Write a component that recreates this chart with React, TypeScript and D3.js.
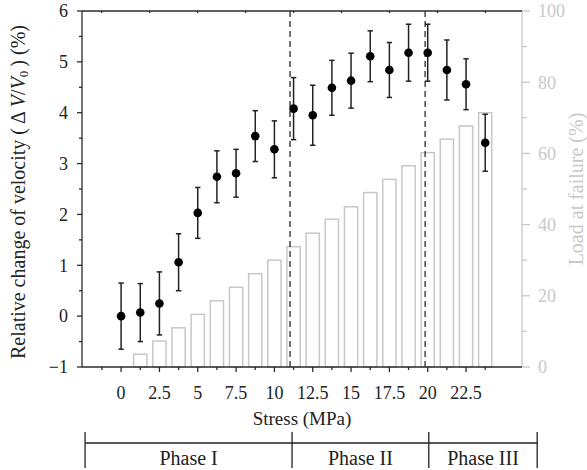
import React from "react";
import * as d3 from "d3";

const stress = [0, 1.25, 2.5, 3.75, 5, 6.25, 7.5, 8.75, 10, 11.25, 12.5, 13.75, 15, 16.25, 17.5, 18.75, 20, 21.25, 22.5, 23.75];
const velocityChange = [0, 0.07, 0.25, 1.06, 2.03, 2.74, 2.81, 3.54, 3.28, 4.08, 3.95, 4.49, 4.63, 5.11, 4.84, 5.18, 5.18, 4.84, 4.56, 3.41];
const velocityError = [0.65, 0.57, 0.62, 0.56, 0.5, 0.51, 0.47, 0.5, 0.56, 0.61, 0.59, 0.54, 0.54, 0.5, 0.54, 0.56, 0.56, 0.59, 0.5, 0.56];

const barStress = [1.25, 2.5, 3.75, 5, 6.25, 7.5, 8.75, 10, 11.25, 12.5, 13.75, 15, 16.25, 17.5, 18.75, 20, 21.25, 22.5, 23.75];
const loadAtFailure = [3.6, 7.3, 11.0, 14.8, 18.6, 22.4, 26.2, 30.0, 33.8, 37.6, 41.5, 45.0, 49.0, 52.7, 56.5, 60.2, 64.0, 67.7, 71.4];

const xTicks = [0, 2.5, 5, 7.5, 10, 12.5, 15, 17.5, 20, 22.5];
const xMinorTicks = [-1.25, 1.25, 3.75, 6.25, 8.75, 11.25, 13.75, 16.25, 18.75, 21.25, 23.75];
const yTicks = [-1, 0, 1, 2, 3, 4, 5, 6];
const yMinorTicks = [-0.5, 0.5, 1.5, 2.5, 3.5, 4.5, 5.5];
const yRightTicks = [0, 20, 40, 60, 80, 100];
const yRightMinorTicks = [10, 30, 50, 70, 90];
const topTicks = [0, 1, 2, 3, 4, 5, 6, 7, 8];

const phaseLines = [11.02, 19.83];
const phaseEdges = [-2.35, 11.15, 20.07, 27.14];
const phaseLabels = ["Phase I", "Phase II", "Phase III"];

const W = 587;
const H = 470;
const left = 82, right = 522, top = 11, bottom = 367;

const AXIS = "#2b2b2b";
const GREY = "#c8c8c8";
const FONT = '"Liberation Serif"';

export default function App() {
  const x = d3.scaleLinear().domain([-2.55, 26.15]).range([left, right]);
  const y = d3.scaleLinear().domain([-1, 6]).range([bottom, top]);
  const yR = d3.scaleLinear().domain([0, 100]).range([bottom, top]);
  const xTop = d3.scaleLinear().domain([-0.41, 8.76]).range([left, right]);
  const barW = (x(1.25) - x(0)) * 0.69;

  const fmt = (v: number) => (v < 0 ? "\u2212" + Math.abs(v) : String(v));
  const ts = { fontFamily: FONT };

  return (
    <svg width={W} height={H} style={{ position: "absolute", left: 0, top: 0, background: "#fff" }}>
      <rect x={0} y={0} width={W} height={H} fill="#fff" />
      {barStress.map((s, i) => (
        <rect key={"b" + i} x={x(s) - barW / 2} y={yR(loadAtFailure[i])} width={barW} height={yR(0) - yR(loadAtFailure[i])}
          fill="#fff" stroke={GREY} strokeWidth={1.5} />
      ))}
      {phaseLines.map((p, i) => (
        <line key={"pl" + i} x1={x(p)} x2={x(p)} y1={top} y2={bottom} stroke={AXIS} strokeWidth={1.3} strokeDasharray="6,4" />
      ))}
      <line x1={right} x2={right} y1={top} y2={bottom} stroke={GREY} strokeWidth={1.3} />
      {yRightTicks.map((t) => (
        <g key={"yr" + t}>
          <line x1={right} x2={right + 8} y1={yR(t)} y2={yR(t)} stroke={GREY} strokeWidth={1.3} />
          <text style={ts} x={right + 16} y={yR(t)} dy="0.35em" fill={GREY} fontSize={18}>{t}</text>
        </g>
      ))}
      {yRightMinorTicks.map((t) => (
        <line key={"yrm" + t} x1={right} x2={right + 5} y1={yR(t)} y2={yR(t)} stroke={GREY} strokeWidth={1.3} />
      ))}
      <text style={ts} transform={`translate(${576},${(top + bottom) / 2}) rotate(-90)`} textAnchor="middle" dy="0.33em" fill={GREY} fontSize={20}>
        Load at failure (%)
      </text>
      <line x1={left} x2={right} y1={top} y2={top} stroke={AXIS} strokeWidth={1.3} />
      {topTicks.map((t) => (
        <line key={"tt" + t} x1={xTop(t)} x2={xTop(t)} y1={top} y2={top + 2} stroke={AXIS} strokeWidth={1.3} />
      ))}
      <line x1={left} x2={left} y1={top} y2={bottom} stroke={AXIS} strokeWidth={1.3} />
      <line x1={left} x2={right} y1={bottom} y2={bottom} stroke={AXIS} strokeWidth={1.3} />
      {yTicks.map((t) => (
        <g key={"y" + t}>
          <line x1={left - 5} x2={left} y1={y(t)} y2={y(t)} stroke={AXIS} strokeWidth={1.3} />
          <text style={ts} x={left - 14} y={y(t)} dy="0.35em" textAnchor="end" fill="#222" fontSize={18}>{fmt(t)}</text>
        </g>
      ))}
      {yMinorTicks.map((t) => (
        <line key={"ym" + t} x1={left - 3} x2={left} y1={y(t)} y2={y(t)} stroke={AXIS} strokeWidth={1.3} />
      ))}
      {xTicks.map((t) => (
        <g key={"x" + t}>
          <line x1={x(t)} x2={x(t)} y1={bottom} y2={bottom + 5} stroke={AXIS} strokeWidth={1.3} />
          <text style={ts} x={x(t)} y={399} textAnchor="middle" fill="#222" fontSize={18}>{t}</text>
        </g>
      ))}
      {xMinorTicks.map((t) => (
        <line key={"xm" + t} x1={x(t)} x2={x(t)} y1={bottom} y2={bottom + 3} stroke={AXIS} strokeWidth={1.3} />
      ))}
      <text style={ts} x={(left + right) / 2} y={425} textAnchor="middle" fill="#222" fontSize={19}>Stress (MPa)</text>
      <text style={ts} transform={`translate(${18},${(top + bottom) / 2 + 3}) rotate(-90)`} textAnchor="middle" dy="0.35em" fill="#222" fontSize={20}>
        Relative change of velocity (<tspan style={ts}>{"\u2009Δ\u2009"}</tspan><tspan style={ts} fontStyle="italic">V</tspan>/<tspan style={ts} fontStyle="italic">V</tspan><tspan style={ts} fontSize={13} dy="3">0</tspan><tspan style={ts} dy="-3">{"\u2009) (%)"}</tspan>
      </text>
      {stress.map((s, i) => {
        const cx = x(s);
        const hi = y(velocityChange[i] + velocityError[i]);
        const lo = y(velocityChange[i] - velocityError[i]);
        return (
          <g key={"p" + i}>
            <line x1={cx} x2={cx} y1={hi} y2={lo} stroke="#222" strokeWidth={1.5} />
            <line x1={cx - 2.7} x2={cx + 2.7} y1={hi} y2={hi} stroke="#222" strokeWidth={1.5} />
            <line x1={cx - 2.7} x2={cx + 2.7} y1={lo} y2={lo} stroke="#222" strokeWidth={1.5} />
            <circle cx={cx} cy={y(velocityChange[i])} r={4.3} fill="#000" />
          </g>
        );
      })}
      <line x1={x(phaseEdges[0])} x2={x(phaseEdges[3])} y1={443} y2={443} stroke="#222" strokeWidth={1.3} />
      {phaseEdges.map((p, i) => (
        <line key={"pe" + i} x1={x(p)} x2={x(p)} y1={432} y2={468} stroke="#222" strokeWidth={1.3} />
      ))}
      {phaseLabels.map((lab, i) => (
        <text style={ts} key={"ph" + i} x={(x(phaseEdges[i]) + x(phaseEdges[i + 1])) / 2} y={465} textAnchor="middle" fill="#222" fontSize={20}>{lab}</text>
      ))}
    </svg>
  );
}
